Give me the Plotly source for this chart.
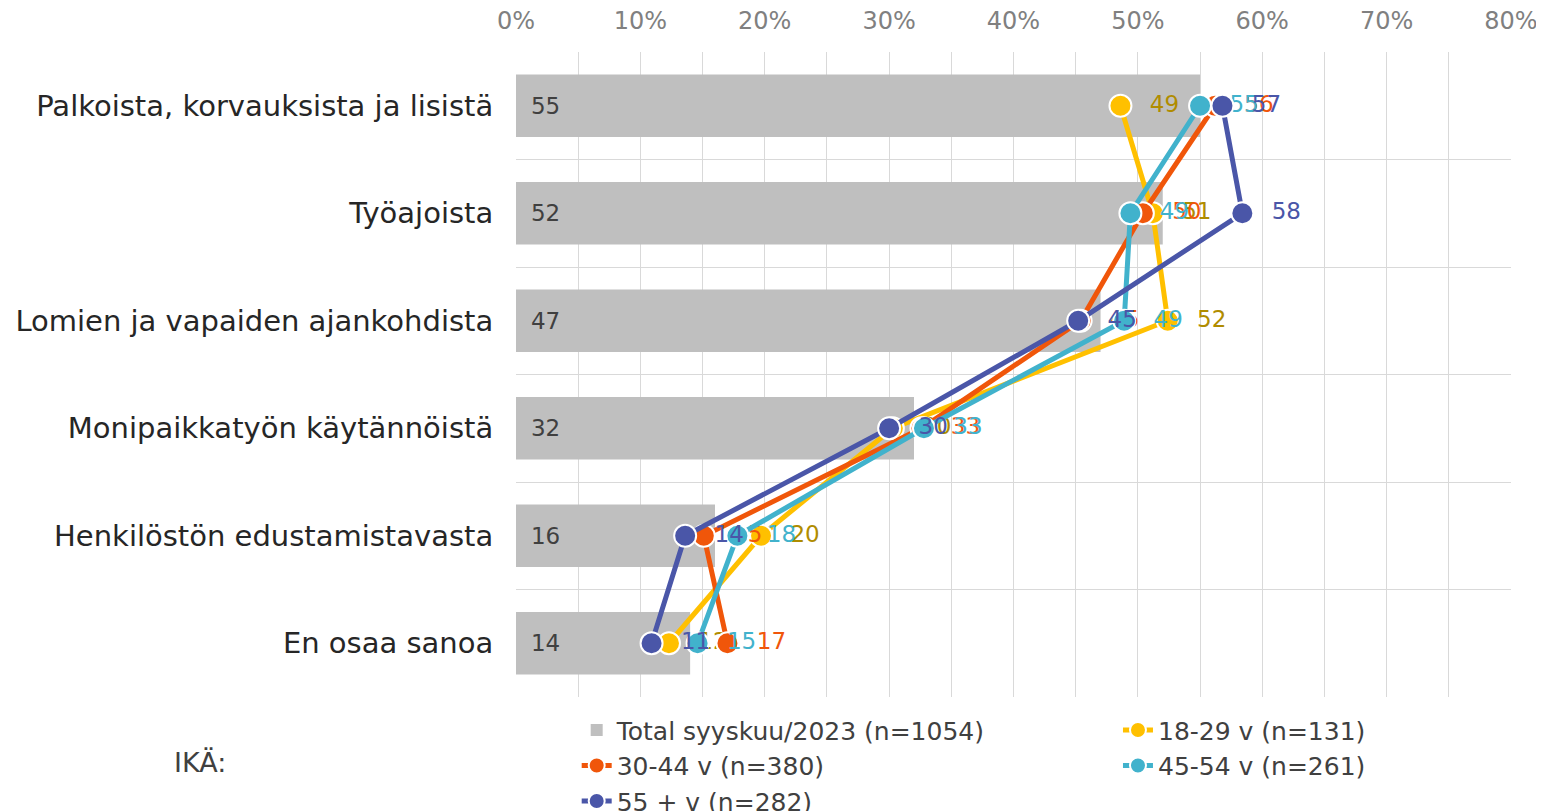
import plotly.graph_objects as go

# survey data (percent)
categories = ["Palkoista, korvauksista ja lisistä", "Työajoista",
              "Lomien ja vapaiden ajankohdista", "Monipaikkatyön käytännöistä",
              "Henkilöstön edustamistavasta", "En osaa sanoa"]
total = [55, 52, 47, 32, 16, 14]
age_18_29 = [48.6, 51.2, 52.4, 30.3, 19.7, 12.3]
age_30_44 = [56.2, 50.4, 45.4, 32.6, 15.1, 17.0]
age_45_54 = [55.0, 49.4, 48.9, 32.8, 17.8, 14.6]
age_55_plus = [56.8, 58.4, 45.2, 30.0, 13.6, 10.9]
x_ticks = [0, 10, 20, 30, 40, 50, 60, 70, 80]

positions = list(range(len(categories)))
font_family = "DejaVu Sans, Verdana, sans-serif"

fig = go.Figure()

fig.add_trace(go.Bar(
    x=total, y=positions, orientation='h', width=0.58,
    name="Total syyskuu/2023 (n=1054)",
    marker=dict(color='#BFBFBF', line=dict(width=0)),
    texttemplate='\u00a0\u2009%{x:.0f}', textposition='inside',
    insidetextanchor='start', textfont=dict(size=23, color='#404040'),
    legend='legend', hoverinfo='skip'))

series = [
    ("18-29 v (n=131)", age_18_29, '#FFC000', '#B08C00', 'legend2'),
    ("30-44 v (n=380)", age_30_44, '#F0560A', '#F0560A', 'legend'),
    ("45-54 v (n=261)", age_45_54, '#41B2CC', '#41B2CC', 'legend2'),
    ("55 + v (n=282)", age_55_plus, '#4A56A8', '#4A56A8', 'legend'),
]
for name, vals, color, tcolor, leg in series:
    fig.add_trace(go.Scatter(
        x=vals, y=positions, name=name, mode='lines+markers+text',
        line=dict(color=color, width=5),
        marker=dict(size=22, color=color, line=dict(color='white', width=2)),
        texttemplate='\u00a0\u00a0%{x:.0f}', textposition='middle right',
        textfont=dict(size=23, color=tcolor),
        legend=leg, hoverinfo='skip'))

# the page has an 8px body margin, so the figure is a bit smaller
fig.update_layout(
    width=1536, height=803,
    margin=dict(l=508, r=33, t=44, b=114, autoexpand=False),
    plot_bgcolor='white', paper_bgcolor='white',
    font=dict(family=font_family, size=23, color='#404040'),
    xaxis=dict(range=[0, 80], side='top', tickvals=x_ticks,
               ticktext=[f"{v}%" for v in x_ticks],
               tickfont=dict(size=24, color='#808080'), tickangle=0,
               showgrid=True, gridcolor='#D9D9D9', gridwidth=1,
               minor=dict(dtick=5, showgrid=True, gridcolor='#D9D9D9'),
               zeroline=False, showline=False, automargin=False,
               ticks='outside', ticklen=12, tickcolor='rgba(0,0,0,0)',
               fixedrange=True),
    yaxis=dict(range=[5.5, -0.5], tickvals=positions, ticktext=categories,
               tickfont=dict(size=29, color='#262626'),
               showgrid=False, zeroline=False, showline=False, automargin=False,
               minor=dict(tickvals=[-0.5, 0.5, 1.5, 2.5, 3.5, 4.5, 5.5],
                          showgrid=True, gridcolor='#D9D9D9'),
               ticks='outside', ticklen=16, tickcolor='rgba(0,0,0,0)',
               fixedrange=True),
    legend=dict(x=0.061, y=-0.016, xanchor='left', yanchor='top', orientation='v',
                font=dict(size=25, color='#404040'), tracegroupgap=0,
                bgcolor='rgba(0,0,0,0)'),
    legend2=dict(x=0.605, y=-0.016, xanchor='left', yanchor='top', orientation='v',
                 font=dict(size=25, color='#404040'), tracegroupgap=0,
                 bgcolor='rgba(0,0,0,0)'),
    annotations=[dict(text="IKÄ:", xref='paper', yref='paper',
                      x=-0.346, y=-0.101, xanchor='left', yanchor='middle',
                      showarrow=False, font=dict(size=27, color='#404040'))],
    showlegend=True,
)

fig.write_html("out.html")
